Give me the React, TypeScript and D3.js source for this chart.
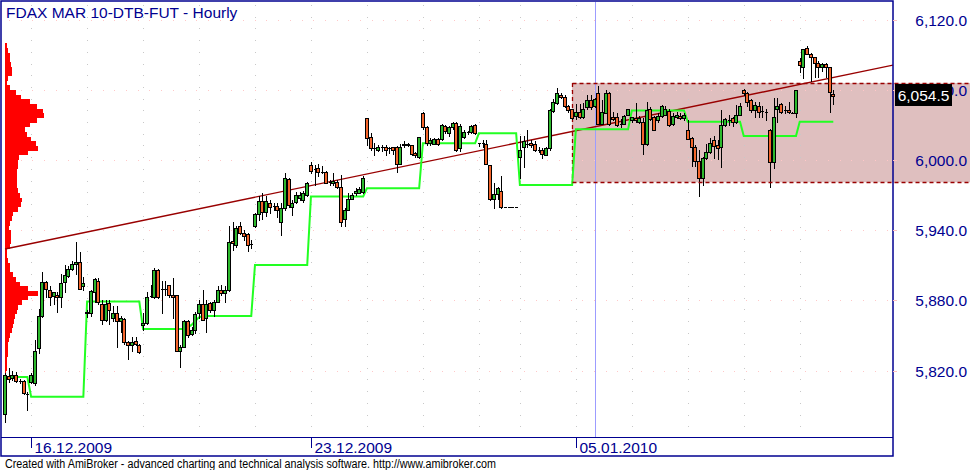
import React, { useEffect, useRef } from 'react';
import * as d3 from 'd3';

const title = 'FDAX MAR 10-DTB-FUT - Hourly';
const footer = 'Created with AmiBroker - advanced charting and technical analysis software. http://www.amibroker.com';

// hourly bars
const opens = [
  5783, 5815, 5814, 5816, 5811, 5811, 5800, 5810, 5809, 5839,
  5867, 5896, 5889, 5884, 5885, 5883, 5896, 5901, 5907, 5911,
  5913, 5892, 5870, 5869, 5887, 5897, 5877, 5863, 5878, 5865,
  5869, 5862, 5864, 5844, 5842, 5845, 5842, 5859, 5861, 5884,
  5883, 5906, 5890, 5890, 5893, 5885, 5885, 5837, 5840, 5862,
  5851, 5855, 5869, 5877, 5865, 5878, 5872, 5879, 5889, 5886,
  5889, 5931, 5927, 5944, 5938, 5937, 5928, 5944, 5954, 5965,
  5956, 5963, 5961, 5961, 5947, 5959, 5984, 5960, 5964, 5968,
  5966, 5970, 5996, 5992, 5993, 5990, 5990, 5981, 5980, 5981,
  5977, 5950, 5957, 5967, 5972, 5972, 5973, 6036, 6020, 6010,
  6009, 6011, 6011, 6010, 6011, 6011, 5997, 6013, 6014, 6013,
  6006, 6003, 6040, 6028, 6015, 6014, 6018, 6018, 6029, 6023,
  6028, 6032, 6010, 6020, 6024, 6024, 6030, 6015, 6015, 6014,
  5996, 5967, 5971, 5974, 5960, 5960, 5960, 5960, 6003, 6011,
  6014, 6015, 6014, 6009, 6009, 6004, 6010, 6042, 6049, 6056,
  6054, 6046, 6044, 6038, 6041, 6037, 6045, 6051, 6046, 6057,
  6031, 6040, 6057, 6037, 6037, 6031, 6031, 6039, 6034, 6036,
  6033, 6033, 6014, 6044, 6037, 6034, 6038, 6039, 6042, 6031,
  6037, 6038, 6036, 6026, 6019, 6011, 5999, 5985, 6002, 6007,
  6017, 6013, 6011, 6030, 6034, 6036, 6033, 6039, 6060, 6057,
  6051, 6043, 6046, 6042, 6041, 6026, 5998, 6044, 6048, 6043,
  6043, 6040.5, 6040, 6085, 6080, 6096, 6091, 6088, 6083, 6080,
  6082, 6080, 6056.5,
];
const highs = [
  5818, 5822, 5820, 5819, 5812.5, 5812, 5802, 5818, 5846, 5873,
  5904, 5897, 5892, 5887, 5887, 5903, 5910, 5909, 5914, 5930,
  5921, 5900, 5872, 5889, 5899, 5899, 5880, 5880, 5880, 5875,
  5875, 5867, 5865, 5845, 5849, 5849, 5843, 5869, 5887, 5893,
  5908, 5907, 5897, 5897, 5893, 5899, 5885, 5842, 5863, 5863,
  5857, 5870, 5880, 5889, 5880, 5879, 5880, 5892, 5893, 5892,
  5944, 5947, 5944, 5947, 5940, 5938, 5932, 5955, 5969, 5972,
  5969, 5966, 5963, 5963, 5963, 5989, 5985, 5966, 5973, 5973,
  5974, 5981, 5998, 5996, 5997, 5995, 5991, 5983, 5989, 5983,
  5987, 5959, 5972, 5972, 5976, 5977, 5986, 6036, 6023, 6015,
  6013, 6013, 6013, 6011, 6011, 6012, 6014, 6016, 6015, 6013,
  6007, 6020, 6041, 6029, 6019, 6019, 6019, 6031, 6030, 6029,
  6033, 6033, 6031, 6026, 6025, 6030, 6031, 6015, 6017, 6017,
  5996, 5980, 5977, 5986, 5960, 5960, 5960, 5960, 6021, 6021,
  6026, 6017, 6016, 6011, 6010, 6011, 6044, 6052, 6062, 6057,
  6056, 6047, 6044, 6048, 6048, 6049, 6056, 6056, 6053, 6063,
  6051, 6060, 6058, 6041, 6040, 6035, 6039, 6044, 6037, 6049,
  6038, 6036, 6050, 6045, 6038, 6040, 6047, 6046, 6044, 6040,
  6041, 6040, 6040, 6034, 6020, 6013, 6009, 6003, 6014, 6019,
  6021, 6017, 6043, 6036, 6039, 6037, 6047, 6049, 6061, 6058,
  6052, 6050, 6050, 6046, 6044, 6027, 6053, 6053, 6049, 6046,
  6050, 6041, 6060, 6087, 6095, 6098, 6092, 6088, 6085, 6083,
  6083, 6080, 6060,
];
const lows = [
  5776, 5810, 5812, 5810, 5809.5, 5800, 5786, 5809, 5808, 5835,
  5866, 5883, 5876, 5877, 5870, 5874, 5887, 5900, 5906, 5903,
  5890, 5889, 5866, 5867, 5879, 5877, 5860, 5862, 5860, 5862,
  5840, 5853, 5843, 5830, 5837, 5842, 5835, 5855, 5860, 5883,
  5882, 5882, 5869, 5885, 5883, 5865, 5837, 5823, 5840, 5849,
  5850, 5852, 5865, 5863, 5853, 5870, 5867, 5879, 5885, 5879,
  5888, 5923, 5926, 5937, 5932, 5922, 5925, 5943, 5949, 5950,
  5952, 5955, 5957, 5951, 5936, 5957, 5960, 5953, 5963, 5966,
  5964, 5969, 5989, 5979, 5986, 5989, 5980, 5979, 5979, 5976,
  5944, 5944, 5957, 5967, 5970, 5972, 5972, 6013, 6009, 6004,
  6008, 6008, 6004, 6006, 6005, 5990, 5997, 6011, 6012, 6004,
  6003, 6002, 6027, 6013, 6013, 6014, 6013, 6017, 6023, 6021,
  6027, 6008, 6008, 6019, 6022, 6023, 6022, 6012, 6011, 5997,
  5966, 5959, 5967, 5959, 5960, 5960, 5960, 5960, 5985, 5994,
  6011, 6011, 6008, 6007, 6002, 6004, 6009, 6041, 6048, 6053,
  6045, 6041, 6035, 6035, 6036, 6036, 6044, 6044, 6045, 6031,
  6031, 6040, 6030, 6034, 6029, 6028.5, 6031, 6039, 6033, 6033,
  6032, 6005, 6013, 6034, 6026, 6033, 6037, 6039, 6029, 6030,
  6036, 6035, 6034, 6018, 5995, 5995, 5969, 5979, 6001, 6006,
  6002, 6001, 5994, 6029, 6030, 6029, 6032, 6039, 6056, 6046,
  6041, 6037, 6037, 6037, 6034, 5977, 5993, 6033, 6040, 6040,
  6040, 6040, 6037, 6075, 6070, 6091, 6068, 6071, 6071, 6076,
  6071, 6041, 6048,
];
const closes = [
  5816, 5813, 5816, 5811, 5811, 5801, 5800, 5816, 5837, 5867,
  5896, 5890, 5883, 5887, 5883, 5895, 5902, 5907, 5911, 5913,
  5890, 5895, 5869, 5888, 5898, 5879, 5863, 5877, 5872, 5869,
  5862, 5865, 5844, 5842, 5844, 5843, 5836, 5861, 5883, 5884,
  5906, 5883, 5890, 5890, 5885, 5883, 5837, 5840, 5862, 5850,
  5855, 5868, 5877, 5863, 5877, 5872, 5879, 5889, 5886, 5889,
  5930, 5929, 5942, 5938, 5935, 5927, 5928, 5954, 5965, 5956,
  5965, 5960, 5961, 5957, 5959, 5985, 5962, 5963, 5970, 5970,
  5972, 5980, 5991, 5992, 5990, 5990, 5980, 5981, 5982, 5977,
  5947, 5957, 5967, 5970, 5974, 5975, 5985, 6019, 6010, 6010,
  6011, 6011, 6009, 6010, 6009, 5997, 6011, 6014, 6013, 6005,
  6004, 6020, 6028, 6015, 6017, 6018, 6014, 6030, 6025, 6028,
  6032, 6009, 6029, 6024, 6024, 6029, 6023, 6015, 6015, 5997,
  5967, 5971, 5976, 5960, 5960, 5960, 5960, 5960, 6009, 6016,
  6014, 6013, 6009, 6009, 6005, 6010, 6043, 6050, 6057, 6054,
  6046, 6043, 6036, 6041, 6037, 6044, 6051, 6045, 6052, 6031,
  6041, 6057, 6031, 6035, 6030, 6031, 6038, 6044, 6037, 6034,
  6036, 6014, 6043, 6035, 6026, 6038, 6046, 6044, 6030, 6038,
  6039, 6036, 6039, 6018, 6011, 5999, 5985, 6002, 6007, 6015,
  6012, 6010, 6030, 6035, 6034, 6033, 6039, 6046, 6057, 6050,
  6043, 6047, 6041, 6042, 6041, 5998, 6037, 6046, 6041, 6043,
  6041, 6040.5, 6060, 6081, 6095, 6091, 6088, 6083, 6080, 6082,
  6080, 6058, 6054.5,
];

// green stop line: [first bar, level]
const stopRuns: [number, number][] = [
  [0, 5814.4], [7, 5797.6], [22, 5879], [37, 5855.5], [49, 5857], [50, 5859],
  [51, 5862.4], [52, 5865.5], [53, 5866.7], [67, 5910.3], [82, 5968.8],
  [97, 5975.9], [112, 6014.4], [127, 6022.9], [138, 5978.7], [153, 6026.3],
  [168, 6042.4], [183, 6032.8], [198, 6020.6], [213, 6032.8],
];

const dayStarts = [7, 22, 37, 52, 67, 82, 97, 112, 127, 138, 153, 168, 183, 198, 213];
const dateBars = [7, 82, 153];
const dateLabels = ['16.12.2009', '23.12.2009', '05.01.2010'];
const priceTicks = [5820, 5880, 5940, 6000, 6060, 6120];

// volume at price, 4 point bins going down from 6100
const profileTop = 6100;
const profileStep = 4;
const profileVolumes = [
  2.3, 3, 4.5, 5, 6, 6.7, 6.5, 3, 2, 4.5,
  11, 16, 25, 32, 38, 39, 32, 25, 20, 21.7,
  26, 31, 33, 23, 14, 13.3, 12.5, 11.7, 11.7, 11.7,
  12, 13.3, 15, 16.7, 16, 13, 8, 6.7, 5, 3.5,
  5.7, 5.7, 5.7, 5, 1.7, 1.7, 2.5, 5, 5, 8.3,
  11, 15, 23, 33, 23, 16.7, 13.3, 12, 10, 9,
  7.7, 7, 5, 4, 3.3, 3.3, 3, 2.3, 2.3, 1.7,
  1.3, 1, 1,
];

const trendBars = [0, 238];
const trendPrices = [5924, 6081.3];
const zoneBar = 152;
const zoneTop = 6066;
const zoneBottom = 5981;
const cursorBar = 158;
const lastPrice = 6054.5;

const W = 970;
const H = 470;
const FONT = '"Liberation Sans", Arial, sans-serif';
const NAVY = '#000090';

interface Bar { i: number; o: number; h: number; l: number; c: number }

const App = () => {
  const ref = useRef<SVGSVGElement>(null);

  useEffect(() => {
    const svg = d3.select(ref.current);
    svg.selectAll('*').remove();

    const left = 1, top = 1, right = 893, bottom = 437;
    const x = d3.scaleLinear().domain([0, 238]).range([5, 893]);
    const y = d3.scaleLinear().domain([5764, 6136.1]).range([436, 1]);
    const volX = d3.scaleLinear().domain([0, 40]).range([0, 40]);

    const bars: Bar[] = opens.map((o, i) => ({ i, o, h: highs[i], l: lows[i], c: closes[i] }));

    svg.append('rect').attr('width', W).attr('height', H).attr('fill', '#fff');

    svg.append('defs').append('clipPath').attr('id', 'plotClip')
      .append('rect').attr('x', left + 1).attr('y', top + 1)
      .attr('width', right - left - 1).attr('height', bottom - top - 1);

    // shaded zone, runs into the axis area
    svg.append('rect')
      .attr('x', Math.round(x(zoneBar)))
      .attr('y', y(zoneTop))
      .attr('width', W - Math.round(x(zoneBar)))
      .attr('height', y(zoneBottom) - y(zoneTop))
      .attr('fill', '#dfbfbf');

    const plot = svg.append('g').attr('clip-path', 'url(#plotClip)');

    // dotted grid
    const hDots: [number, number][] = [];
    priceTicks.forEach(p => d3.range(9, right, 11.7).forEach(xx => hDots.push([Math.round(xx), Math.round(y(p))])));
    plot.selectAll('.hdot').data(hDots).enter().append('rect')
      .attr('x', d => d[0]).attr('y', d => d[1]).attr('width', 1).attr('height', 1)
      .attr('fill', '#ffc8c8');
    const vDots: [number, number][] = [];
    dayStarts.forEach(b => d3.range(5, bottom, 11.7).forEach(yy => vDots.push([Math.round(x(b)), Math.round(yy)])));
    plot.selectAll('.vdot').data(vDots).enter().append('rect')
      .attr('x', d => d[0]).attr('y', d => d[1]).attr('width', 1).attr('height', 1)
      .attr('fill', '#c8c8c8');

    // volume profile
    plot.selectAll('.vap').data(profileVolumes).enter().append('rect')
      .attr('x', 5)
      .attr('y', (d, k) => Math.round(y(profileTop - k * profileStep)))
      .attr('height', (d, k) => Math.round(y(profileTop - (k + 1) * profileStep)) - Math.round(y(profileTop - k * profileStep)))
      .attr('width', d => volX(d))
      .attr('fill', '#ff0000')
      .attr('shape-rendering', 'crispEdges');

    // cursor line
    plot.append('line')
      .attr('x1', Math.round(x(cursorBar)) + 0.5).attr('x2', Math.round(x(cursorBar)) + 0.5)
      .attr('y1', top).attr('y2', bottom)
      .attr('stroke', '#9c9cff').attr('stroke-width', 1);

    // trend line
    plot.append('line')
      .attr('x1', x(trendBars[0])).attr('y1', y(trendPrices[0]))
      .attr('x2', x(trendBars[1])).attr('y2', y(trendPrices[1]))
      .attr('stroke', '#990000').attr('stroke-width', 1.4);

    // zone borders
    const zx = Math.round(x(zoneBar)) + 0.5;
    const dash = { stroke: '#990000', 'stroke-width': 1.3, 'stroke-dasharray': '4,3' };
    [zoneTop, zoneBottom].forEach(p => {
      const l = svg.append('line').attr('x1', zx).attr('x2', W)
        .attr('y1', Math.round(y(p)) + 0.5).attr('y2', Math.round(y(p)) + 0.5);
      Object.entries(dash).forEach(([k, v]) => l.attr(k, v));
    });
    const vl = plot.append('line').attr('x1', zx).attr('x2', zx)
      .attr('y1', y(zoneTop)).attr('y2', y(zoneBottom));
    Object.entries(dash).forEach(([k, v]) => vl.attr(k, v));

    // stop line
    const stops = opens.map((_, i) => {
      let v = stopRuns[0][1];
      stopRuns.forEach(([b, val]) => { if (i >= b) v = val; });
      return v;
    });
    const line = d3.line<number>().x((d, i) => x(i)).y(d => y(d));
    plot.append('path').datum(stops)
      .attr('d', line)
      .attr('fill', 'none')
      .attr('stroke', '#22ff22')
      .attr('stroke-width', 2);

    // candles
    const cx = (d: Bar) => Math.round(x(d.i));
    const candles = plot.selectAll('.candle').data(bars).enter().append('g')
      .attr('shape-rendering', 'crispEdges');
    candles.append('line')
      .attr('x1', d => cx(d) + 0.5).attr('x2', d => cx(d) + 0.5)
      .attr('y1', d => Math.round(y(d.h))).attr('y2', d => Math.round(y(d.l)) + 1)
      .attr('stroke', '#000').attr('stroke-width', 1);
    candles.filter(d => d.o !== d.c).append('rect')
      .attr('x', d => cx(d) - 1.5)
      .attr('y', d => Math.round(y(Math.max(d.o, d.c))) + 0.5)
      .attr('width', 3)
      .attr('height', d => Math.max(1, Math.round(y(Math.min(d.o, d.c))) - Math.round(y(Math.max(d.o, d.c)))))
      .attr('fill', d => (d.c > d.o ? '#2db92d' : '#f4652b'))
      .attr('stroke', '#000').attr('stroke-width', 1);
    candles.filter(d => d.o === d.c).append('line')
      .attr('x1', d => cx(d) - 1).attr('x2', d => cx(d) + 2)
      .attr('y1', d => Math.round(y(d.o)) + 0.5).attr('y2', d => Math.round(y(d.o)) + 0.5)
      .attr('stroke', '#000').attr('stroke-width', 1);

    // frame
    svg.append('rect').attr('x', left).attr('y', top).attr('width', right - left).attr('height', 456 - top)
      .attr('fill', 'none').attr('stroke', NAVY).attr('stroke-width', 1.5);
    svg.append('line').attr('x1', left).attr('x2', right).attr('y1', bottom + 0.5).attr('y2', bottom + 0.5)
      .attr('stroke', NAVY).attr('stroke-width', 1.2);

    // title
    svg.append('text').attr('x', 6).attr('y', 17.5).text(title)
      .attr('font-family', FONT).attr('font-size', 15.5).attr('fill', NAVY);

    // y axis
    const fmt = d3.format(',.1f');
    priceTicks.forEach(p => {
      svg.append('line').attr('x1', right).attr('x2', right + 4)
        .attr('y1', Math.round(y(p)) + 0.5).attr('y2', Math.round(y(p)) + 0.5)
        .attr('stroke', '#ffc0c0');
      svg.append('text').attr('x', 967).attr('y', y(p) + 6).attr('text-anchor', 'end')
        .text(fmt(p)).attr('font-family', FONT).attr('font-size', 15.5).attr('fill', NAVY);
    });

    // last price box
    svg.append('rect').attr('x', 895).attr('y', Math.round(y(lastPrice)) - 12).attr('width', 57).attr('height', 22)
      .attr('fill', '#000');
    svg.append('text').attr('x', 923.5).attr('y', y(lastPrice) + 5).attr('text-anchor', 'middle')
      .text(fmt(lastPrice)).attr('font-family', FONT).attr('font-size', 15.5).attr('fill', '#fff');

    // x axis dates
    dateBars.forEach((b, k) => {
      const tx = Math.round(x(b)) + 0.5;
      svg.append('line').attr('x1', tx).attr('x2', tx).attr('y1', bottom + 1).attr('y2', bottom + 11)
        .attr('stroke', NAVY);
      svg.append('text').attr('x', tx + 3).attr('y', 453).text(dateLabels[k])
        .attr('font-family', FONT).attr('font-size', 15.5).attr('fill', NAVY);
    });

    svg.append('text').attr('x', 5).attr('y', 468).text(footer)
      .attr('font-family', FONT).attr('font-size', 12).attr('fill', '#000')
      .attr('textLength', 491).attr('lengthAdjust', 'spacingAndGlyphs');
  }, []);

  return <svg ref={ref} width={W} height={H} style={{ position: 'absolute', left: 0, top: 0 }}></svg>;
};

export default App;
